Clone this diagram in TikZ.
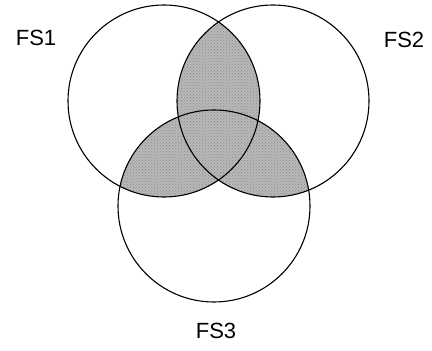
\documentclass[tikz,border=0pt]{standalone}
\usepackage{fontspec}
\setmainfont{Liberation Sans}
\usetikzlibrary{patterns}
\begin{document}
\begin{tikzpicture}[x=1pt,y=1pt,
  setc/.style={draw=black,line width=1.1pt},
  shade/.style={fill=black!28},
  dots/.style={pattern=crosshatch dots,pattern color=black!45},
  lbl/.style={font=\fontsize{22}{24}\selectfont,inner sep=0pt}]
\useasboundingbox (0,0) rectangle (432,351);
\coordinate (cA) at (164,250);
\coordinate (cB) at (273,250);
\coordinate (cC) at (214,145);
\def\rr{96}
% pairwise intersections
\begin{scope}\clip (cA) circle (\rr); \fill[shade] (cB) circle (\rr); \fill[dots] (cB) circle (\rr);\end{scope}
\begin{scope}\clip (cA) circle (\rr); \fill[shade] (cC) circle (\rr); \fill[dots] (cC) circle (\rr);\end{scope}
\begin{scope}\clip (cB) circle (\rr); \fill[shade] (cC) circle (\rr); \fill[dots] (cC) circle (\rr);\end{scope}
\draw[setc] (cA) circle (\rr);
\draw[setc] (cB) circle (\rr);
\draw[setc] (cC) circle (\rr);
\node[lbl] (l1) at (36,313) {FS1};
\node[lbl] (l2) at (404,311) {FS2};
\node[lbl] (l3) at (216,20) {FS3};
\end{tikzpicture}
\end{document}
